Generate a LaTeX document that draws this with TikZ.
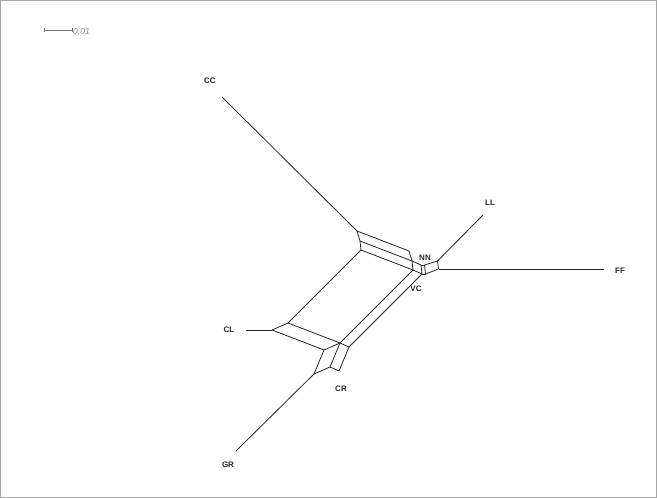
\documentclass[tikz,border=0pt]{standalone}
\usepackage{fontspec}
\setsansfont{Liberation Sans}
\begin{document}
\begin{tikzpicture}[x=1pt,y=-1pt,
  edge/.style={draw=black!85, line width=0.8pt, line join=round},
  taxon/.style={font=\sffamily\bfseries\fontsize{8}{9}\selectfont, text=black!85, inner sep=0pt},
  scaletext/.style={font=\sffamily\itshape\fontsize{8.5}{9}\selectfont, text=black!45, inner sep=0pt, anchor=west}]
\useasboundingbox (0,0) rectangle (657,498);
\draw[black!35, line width=0.8pt] (0.5,0.5) rectangle (656.5,497.5);
% scale bar
\coordinate (SB1) at (44,30);
\coordinate (SB2) at (72,30);
\draw[black!55, line width=0.7pt] (SB1) -- (SB2);
\draw[black!55, line width=0.7pt] ([yshift=-2pt]SB1) -- ([yshift=2pt]SB1);
\draw[black!55, line width=0.7pt] ([yshift=-2pt]SB2) -- ([yshift=2pt]SB2);
\node[scaletext] (sbl) at (73,31.5) {0.01};
% upper box
\coordinate (P1) at (357,231);
\coordinate (M)  at (360,241);
\coordinate (Ua) at (361,250);
\coordinate (Q1) at (409,251);
\coordinate (R1) at (412,261);
\coordinate (Ub) at (413,270);
\coordinate (N1) at (421,265);
\coordinate (N3) at (422,274);
\coordinate (N2) at (424.5,265);
\coordinate (N4) at (425.5,274);
\coordinate (X1) at (437.5,261);
\coordinate (X2) at (438.5,269);
% lower box
\coordinate (L1) at (288,323);
\coordinate (L2) at (272,330);
\coordinate (L3) at (340,343);
\coordinate (L4) at (324,350);
\coordinate (L5) at (349,347);
\coordinate (L6) at (314,374);
\coordinate (L7) at (330,367);
\coordinate (L8) at (339,371);
% leaf ends
\coordinate (CCe) at (222,97);
\coordinate (LLe) at (483,215);
\coordinate (FFe) at (604,269);
\coordinate (CLe) at (246,330);
\coordinate (GRe) at (236,451);
% edges
\draw[edge] (CCe) -- (P1);
\draw[edge] (P1) -- (Q1);
\draw[edge] (Q1) -- (R1);
\draw[edge] (P1) -- (M);
\draw[edge] (M) -- (R1);
\draw[edge] (M) -- (Ua);
\draw[edge] (R1) -- (Ub);
\draw[edge] (Ua) -- (Ub);
\draw[edge] (R1) -- (N1);
\draw[edge] (Ub) -- (N3);
\draw[edge] (N1) -- (N3);
\draw[edge] (N1) -- (N2);
\draw[edge] (N3) -- (N4);
\draw[edge] (N2) -- (N4);
\draw[edge] (N2) -- (X1);
\draw[edge] (N4) -- (X2);
\draw[edge] (X1) -- (X2);
\draw[edge] (X1) -- (LLe);
\draw[edge] (X2) -- (FFe);
\draw[edge] (Ua) -- (L1);
\draw[edge] (Ub) -- (L3);
\draw[edge] (N3) -- (L5);
\draw[edge] (L1) -- (L2);
\draw[edge] (L1) -- (L3);
\draw[edge] (L2) -- (L4);
\draw[edge] (L3) -- (L4);
\draw[edge] (L3) -- (L5);
\draw[edge] (L4) -- (L6);
\draw[edge] (L3) -- (L7);
\draw[edge] (L5) -- (L8);
\draw[edge] (L6) -- (L7);
\draw[edge] (L7) -- (L8);
\draw[edge] (L2) -- (CLe);
\draw[edge] (L6) -- (GRe);
% labels
\node[taxon] (CC) at (210,81) {CC};
\node[taxon] (LL) at (490,203) {LL};
\node[taxon] (NN) at (425,258) {NN};
\node[taxon] (FF) at (620,271) {FF};
\node[taxon] (VC) at (416,289) {VC};
\node[taxon] (CL) at (229,330) {CL};
\node[taxon] (CR) at (341,389) {CR};
\node[taxon] (GR) at (228,465) {GR};
\end{tikzpicture}
\end{document}
